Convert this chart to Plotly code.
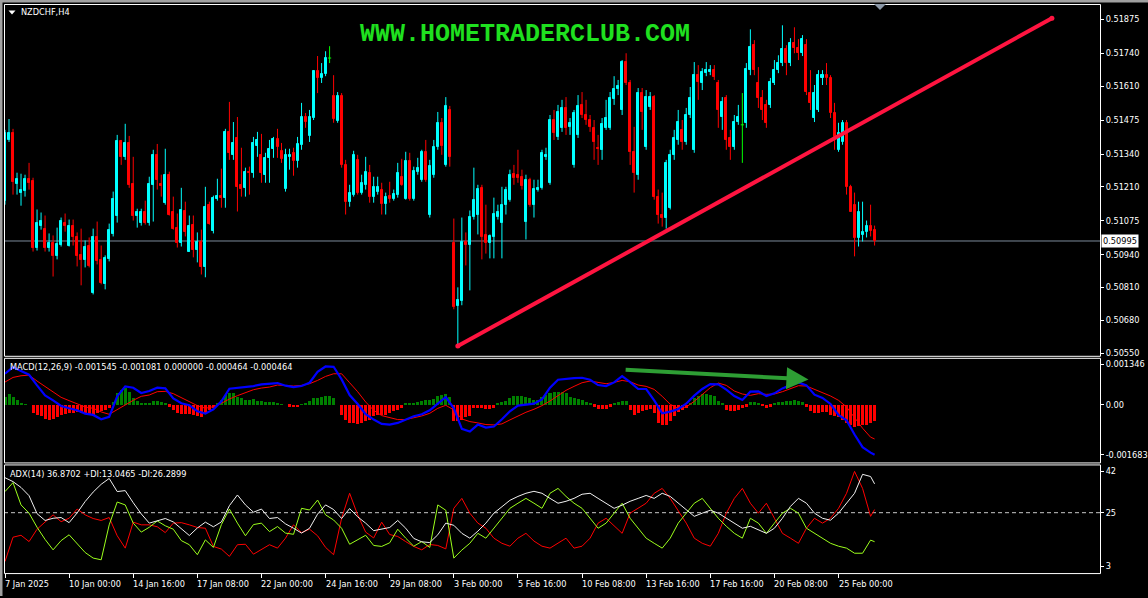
import plotly.graph_objects as go

# ---------------- data ----------------
time_labels = ["7 Jan 2025", "10 Jan 00:00", "14 Jan 16:00", "17 Jan 08:00", "22 Jan 00:00",
               "24 Jan 16:00", "29 Jan 08:00", "3 Feb 00:00", "5 Feb 16:00", "10 Feb 08:00",
               "13 Feb 16:00", "17 Feb 16:00", "20 Feb 08:00", "25 Feb 00:00"]
time_label_bars = [0, 16, 32, 48, 64, 80, 96, 112, 128, 144, 160, 176, 192, 208]

opens = [
    0.51155, 0.51396, 0.51424, 0.51222, 0.51187, 0.51195, 0.51242, 0.51234, 0.50969, 0.51056,
    0.51044, 0.50969, 0.50989, 0.50934, 0.50981, 0.51068, 0.50977, 0.51056, 0.51009, 0.50938,
    0.50918, 0.50977, 0.50787, 0.51009, 0.50918, 0.50823, 0.50922, 0.51021, 0.51096, 0.51392,
    0.51329, 0.51384, 0.51222, 0.51096, 0.51068, 0.51112, 0.51068, 0.51218, 0.51337, 0.51222,
    0.51147, 0.51258, 0.51112, 0.51048, 0.50989, 0.51116, 0.50953, 0.51060, 0.50961, 0.50993,
    0.50890, 0.51139, 0.51036, 0.51163, 0.51175, 0.51167, 0.51428, 0.51337, 0.51404, 0.51218,
    0.51206, 0.51270, 0.51266, 0.51373, 0.51337, 0.51258, 0.51325, 0.51361, 0.51400, 0.51353,
    0.51203, 0.51329, 0.51345, 0.51313, 0.51377, 0.51487, 0.51412, 0.51483, 0.51669, 0.51642,
    0.51657, 0.51721, 0.51570, 0.51471, 0.51570, 0.51297, 0.51151, 0.51179, 0.51317, 0.51187,
    0.51218, 0.51266, 0.51171, 0.51191, 0.51199, 0.51143, 0.51175, 0.51163, 0.51179, 0.51250,
    0.51163, 0.51313, 0.51163, 0.51270, 0.51238, 0.51349, 0.51100, 0.51258, 0.51369, 0.51464,
    0.51297, 0.51515, 0.50989, 0.50736, 0.50756, 0.50993, 0.50981, 0.51092, 0.51100, 0.51206,
    0.51017, 0.50989, 0.51009, 0.51092, 0.51068, 0.51139, 0.51159, 0.51262, 0.51258, 0.51250,
    0.51072, 0.51238, 0.51139, 0.51199, 0.51206, 0.51329, 0.51226, 0.51475, 0.51408, 0.51444,
    0.51523, 0.51448, 0.51297, 0.51416, 0.51535, 0.51495, 0.51475, 0.51444, 0.51365, 0.51357,
    0.51444, 0.51444, 0.51558, 0.51598, 0.51515, 0.51705, 0.51622, 0.51349, 0.51258, 0.51582,
    0.51369, 0.51527, 0.51566, 0.51171, 0.51100, 0.51088, 0.51127, 0.51337, 0.51396, 0.51436,
    0.51388, 0.51495, 0.51357, 0.51653, 0.51622, 0.51661, 0.51665, 0.51673, 0.51622, 0.51487,
    0.51562, 0.51404, 0.51369, 0.51467, 0.51456, 0.51464, 0.51673, 0.51772, 0.51622, 0.51562,
    0.51535, 0.51535, 0.51622, 0.51673, 0.51701, 0.51756, 0.51701, 0.51780, 0.51760, 0.51740,
    0.51772, 0.51582, 0.51483, 0.51515, 0.51642, 0.51653, 0.51642, 0.51503, 0.51357, 0.51388,
    0.51464, 0.51210, 0.51139, 0.51005, 0.51017, 0.51029, 0.51056, 0.51040]
highs = [
    0.51436, 0.51479, 0.51440, 0.51266, 0.51262, 0.51258, 0.51305, 0.51246, 0.51120, 0.51108,
    0.51096, 0.51025, 0.51017, 0.51048, 0.51088, 0.51104, 0.51080, 0.51080, 0.51029, 0.51044,
    0.50997, 0.51009, 0.51044, 0.51072, 0.50977, 0.50938, 0.51064, 0.51191, 0.51416, 0.51396,
    0.51460, 0.51412, 0.51329, 0.51123, 0.51123, 0.51155, 0.51250, 0.51357, 0.51380, 0.51258,
    0.51361, 0.51270, 0.51171, 0.51104, 0.51206, 0.51151, 0.51096, 0.51096, 0.51029, 0.51040,
    0.51210, 0.51151, 0.51175, 0.51242, 0.51282, 0.51440, 0.51547, 0.51467, 0.51487, 0.51365,
    0.51286, 0.51290, 0.51408, 0.51428, 0.51420, 0.51345, 0.51396, 0.51408, 0.51440, 0.51384,
    0.51361, 0.51361, 0.51365, 0.51408, 0.51543, 0.51503, 0.51515, 0.51673, 0.51729, 0.51701,
    0.51748, 0.51768, 0.51653, 0.51586, 0.51582, 0.51317, 0.51218, 0.51353, 0.51337, 0.51258,
    0.51329, 0.51297, 0.51250, 0.51250, 0.51226, 0.51187, 0.51230, 0.51199, 0.51305, 0.51321,
    0.51349, 0.51345, 0.51290, 0.51325, 0.51357, 0.51396, 0.51317, 0.51396, 0.51507, 0.51483,
    0.51566, 0.51531, 0.51084, 0.50811, 0.51088, 0.51029, 0.51116, 0.51286, 0.51218, 0.51218,
    0.51139, 0.51021, 0.51167, 0.51139, 0.51210, 0.51210, 0.51278, 0.51297, 0.51357, 0.51278,
    0.51258, 0.51246, 0.51238, 0.51238, 0.51357, 0.51365, 0.51495, 0.51515, 0.51535, 0.51555,
    0.51566, 0.51483, 0.51515, 0.51574, 0.51586, 0.51555, 0.51495, 0.51475, 0.51416, 0.51483,
    0.51555, 0.51586, 0.51649, 0.51634, 0.51713, 0.51740, 0.51634, 0.51448, 0.51602, 0.51602,
    0.51594, 0.51586, 0.51574, 0.51199, 0.51187, 0.51317, 0.51357, 0.51436, 0.51515, 0.51475,
    0.51523, 0.51606, 0.51705, 0.51693, 0.51681, 0.51705, 0.51693, 0.51693, 0.51634, 0.51566,
    0.51574, 0.51436, 0.51495, 0.51535, 0.51582, 0.51701, 0.51835, 0.51792, 0.51685, 0.51594,
    0.51555, 0.51642, 0.51713, 0.51732, 0.51851, 0.51772, 0.51800, 0.51843, 0.51796, 0.51812,
    0.51796, 0.51673, 0.51614, 0.51673, 0.51673, 0.51701, 0.51653, 0.51543, 0.51464, 0.51475,
    0.51475, 0.51218, 0.51187, 0.51151, 0.51151, 0.51076, 0.51139, 0.51056]
lows = [
    0.51139, 0.51388, 0.51179, 0.51179, 0.51135, 0.51171, 0.51199, 0.50953, 0.50957, 0.51040,
    0.50953, 0.50953, 0.50854, 0.50922, 0.50973, 0.51032, 0.50973, 0.50977, 0.50894, 0.50819,
    0.50890, 0.50890, 0.50783, 0.50902, 0.50823, 0.50803, 0.50914, 0.51013, 0.51068, 0.51297,
    0.51317, 0.51206, 0.51076, 0.51048, 0.51056, 0.51060, 0.51056, 0.51072, 0.51199, 0.51171,
    0.51139, 0.51096, 0.51040, 0.50969, 0.50973, 0.51013, 0.50953, 0.50930, 0.50910, 0.50862,
    0.50851, 0.51060, 0.51025, 0.51155, 0.51127, 0.51127, 0.51317, 0.51317, 0.51112, 0.51171,
    0.51171, 0.51179, 0.51246, 0.51329, 0.51226, 0.51226, 0.51226, 0.51325, 0.51325, 0.51305,
    0.51191, 0.51278, 0.51254, 0.51286, 0.51357, 0.51444, 0.51388, 0.51475, 0.51582, 0.51622,
    0.51649, 0.51701, 0.51464, 0.51464, 0.51286, 0.51100, 0.51131, 0.51171, 0.51179, 0.51179,
    0.51199, 0.51147, 0.51147, 0.51179, 0.51100, 0.51100, 0.51147, 0.51155, 0.51167, 0.51214,
    0.51159, 0.51155, 0.51155, 0.51258, 0.51230, 0.51230, 0.51088, 0.51246, 0.51357, 0.51337,
    0.51290, 0.51290, 0.50724, 0.50578, 0.50740, 0.50898, 0.50799, 0.51080, 0.51021, 0.50922,
    0.50945, 0.50926, 0.50926, 0.51080, 0.50926, 0.51100, 0.51151, 0.51218, 0.51226, 0.51199,
    0.51001, 0.51131, 0.51088, 0.51191, 0.51199, 0.51317, 0.51218, 0.51396, 0.51396, 0.51428,
    0.51416, 0.51416, 0.51286, 0.51404, 0.51483, 0.51456, 0.51428, 0.51317, 0.51297, 0.51317,
    0.51436, 0.51436, 0.51535, 0.51574, 0.51495, 0.51614, 0.51297, 0.51187, 0.51238, 0.51436,
    0.51357, 0.51515, 0.51159, 0.51064, 0.51052, 0.51044, 0.51120, 0.51317, 0.51377, 0.51357,
    0.51377, 0.51483, 0.51345, 0.51555, 0.51594, 0.51649, 0.51653, 0.51634, 0.51444, 0.51436,
    0.51357, 0.51317, 0.51357, 0.51456, 0.51305, 0.51444, 0.51653, 0.51653, 0.51523, 0.51475,
    0.51444, 0.51523, 0.51614, 0.51661, 0.51689, 0.51653, 0.51689, 0.51740, 0.51713, 0.51729,
    0.51574, 0.51515, 0.51467, 0.51507, 0.51614, 0.51614, 0.51483, 0.51357, 0.51349, 0.51377,
    0.51179, 0.51112, 0.50934, 0.50973, 0.50993, 0.51009, 0.51013, 0.50977]
closes = [
    0.51424, 0.51424, 0.51230, 0.51242, 0.51199, 0.51242, 0.51226, 0.50969, 0.51068, 0.51076,
    0.50969, 0.50989, 0.50934, 0.50985, 0.51076, 0.51056, 0.51056, 0.51009, 0.50934, 0.50918,
    0.50973, 0.50894, 0.51009, 0.50914, 0.50827, 0.50926, 0.51040, 0.51163, 0.51392, 0.51329,
    0.51384, 0.51218, 0.51096, 0.51112, 0.51112, 0.51068, 0.51222, 0.51337, 0.51238, 0.51214,
    0.51258, 0.51100, 0.51044, 0.50989, 0.51120, 0.51029, 0.51056, 0.50961, 0.50993, 0.50890,
    0.51131, 0.51064, 0.51167, 0.51175, 0.51167, 0.51428, 0.51345, 0.51384, 0.51210, 0.51203,
    0.51270, 0.51266, 0.51384, 0.51396, 0.51266, 0.51325, 0.51361, 0.51400, 0.51369, 0.51321,
    0.51337, 0.51337, 0.51313, 0.51380, 0.51487, 0.51467, 0.51487, 0.51669, 0.51642, 0.51657,
    0.51721, 0.51721, 0.51479, 0.51570, 0.51297, 0.51151, 0.51187, 0.51337, 0.51187, 0.51226,
    0.51270, 0.51171, 0.51210, 0.51210, 0.51143, 0.51171, 0.51163, 0.51183, 0.51266, 0.51218,
    0.51313, 0.51163, 0.51274, 0.51286, 0.51349, 0.51238, 0.51293, 0.51369, 0.51464, 0.51373,
    0.51531, 0.51329, 0.50732, 0.50760, 0.50993, 0.50981, 0.51092, 0.51159, 0.51203, 0.51009,
    0.50989, 0.51013, 0.51104, 0.51112, 0.51139, 0.51199, 0.51258, 0.51246, 0.51246, 0.51214,
    0.51238, 0.51139, 0.51203, 0.51206, 0.51345, 0.51337, 0.51475, 0.51424, 0.51507, 0.51523,
    0.51444, 0.51464, 0.51503, 0.51531, 0.51495, 0.51475, 0.51448, 0.51388, 0.51361, 0.51460,
    0.51483, 0.51562, 0.51598, 0.51610, 0.51705, 0.51622, 0.51349, 0.51266, 0.51582, 0.51507,
    0.51566, 0.51566, 0.51171, 0.51100, 0.51088, 0.51305, 0.51337, 0.51404, 0.51467, 0.51388,
    0.51495, 0.51562, 0.51653, 0.51626, 0.51665, 0.51673, 0.51673, 0.51645, 0.51515, 0.51547,
    0.51396, 0.51369, 0.51467, 0.51487, 0.51456, 0.51677, 0.51764, 0.51673, 0.51562, 0.51515,
    0.51464, 0.51626, 0.51673, 0.51701, 0.51756, 0.51701, 0.51780, 0.51760, 0.51740, 0.51796,
    0.51586, 0.51543, 0.51582, 0.51653, 0.51653, 0.51642, 0.51503, 0.51408, 0.51424, 0.51464,
    0.51210, 0.51112, 0.51005, 0.51112, 0.51029, 0.51056, 0.51036, 0.50995]

# indicator lines are read every second bar (plus the last bar)
line_bars = list(range(0, 217, 2)) + [217]

macd_main = [
    0.001036, 0.001259, 0.001125, 0.001003, 0.000646, 0.000312, 0.000145, -0.000045, -0.000123, -0.000189,
    -0.000301, -0.000345, -0.000490, -0.000412, 0.000279, 0.000613, 0.000568, 0.000390, 0.000457, 0.000568,
    0.000546, 0.000212, 0.000045, -0.000022, -0.000223, -0.000301, -0.000156, 0.000111, 0.000535, 0.000557,
    0.000579, 0.000624, 0.000680, 0.000713, 0.000724, 0.000635, 0.000590, 0.000624, 0.000735, 0.001103,
    0.001281, 0.001270, 0.000847, 0.000323, 0.000022, -0.000323, -0.000501, -0.000646, -0.000668, -0.000613,
    -0.000490, -0.000390, -0.000323, -0.000189, 0.000033, 0.000256,
    -0.000123, -0.000813, -0.000902, -0.000668, -0.000769, -0.000735, -0.000490, -0.000223, -0.000033, 0.0,
    0.000033, 0.000178, 0.000568, 0.000836, 0.000869, 0.000891, 0.000902, 0.000836, 0.000657, 0.000624,
    0.000746, 0.000958, 0.000758, 0.000524, 0.000524, 0.000145, -0.000290, -0.000234, -0.000145, 0.000033,
    0.000301, 0.000524, 0.000691, 0.000680, 0.000501, 0.000290, 0.000156, 0.000434, 0.000446, 0.000290,
    0.000379, 0.000546, 0.000657, 0.000746, 0.000646, 0.000334, 0.000223, 0.000022, -0.000345, -0.000524,
    -0.001003, -0.001426, -0.001610, -0.001683]
macd_signal = [
    0.000758, 0.000913, 0.000969, 0.000991, 0.000791, 0.000613, 0.000434, 0.000245, 0.000134, 0.000022,
    -0.000078, -0.000123, -0.000245, -0.000323, -0.000167, 0.0, 0.000145, 0.000279, 0.000323, 0.000434,
    0.000446, 0.000368, 0.000234, 0.000078, -0.000033, -0.000123, -0.000067, 0.000045, 0.000189, 0.000301,
    0.000390, 0.000501, 0.000557, 0.000590, 0.000657, 0.000646, 0.000624, 0.000646, 0.000702, 0.000813,
    0.000947, 0.001036, 0.001036, 0.000735, 0.000434, 0.000089, -0.000189, -0.000368, -0.000446, -0.000501,
    -0.000501, -0.000446, -0.000379, -0.000290, -0.000123, -0.000022,
    -0.000178, -0.000479, -0.000568, -0.000613, -0.000668, -0.000680, -0.000646, -0.000512, -0.000379, -0.000256,
    -0.000156, -0.000033, 0.000123, 0.000301, 0.000479, 0.000613, 0.000735, 0.000791, 0.000735, 0.000702,
    0.000746, 0.000813, 0.000769, 0.000657, 0.000613, 0.000512, 0.000279, 0.000011, -0.000123, -0.000078,
    0.000111, 0.000334, 0.000568, 0.000724, 0.000646, 0.000457, 0.000356, 0.000312, 0.000368, 0.000345,
    0.000356, 0.000434, 0.000546, 0.000635, 0.000624, 0.000512, 0.000390, 0.000290, 0.000145, -0.000078,
    -0.000434, -0.000791, -0.001092, -0.001150]
macd_hist = [
    0.000256, 0.000368, 0.000279, 0.000167, 0.000056, 0.000022, 0.0, -0.000279, -0.000334, -0.00039,
    -0.000468, -0.000501, -0.000479, -0.000412, -0.000334, -0.000312, -0.000279, -0.000279, -0.000245, -0.000279,
    -0.000301, -0.000334, -0.000368, -0.000279, -0.000223, -0.000167, -0.000089, 0.000089, 0.00039, 0.000501,
    0.000557, 0.000446, 0.000245, 0.000134, 0.000056, 0.000033, 0.000056, 0.000134, 0.000134, 0.000111,
    0.000056, -0.000056, -0.000167, -0.000279, -0.000312, -0.000312, -0.000312, -0.000334, -0.00039, -0.000423,
    -0.000279, -0.000167, -0.000089, 0.000056, 0.000167, 0.000334, 0.00039, 0.00039, 0.000279, 0.000223,
    0.000167, 0.000167, 0.000201, 0.000134, 0.000134, 0.000111, 0.000111, 0.000089, 0.000056, 0.000022,
    0.0, -0.000056, -0.000078, -0.000078, 0.000022, 0.000056, 0.000134, 0.000223, 0.000245, 0.000279,
    0.000312, 0.000312, 0.000223, 0.0, -0.000334, -0.000501, -0.000613, -0.000613, -0.000635, -0.000613,
    -0.000557, -0.000501, -0.00039, -0.000334, -0.000334, -0.000334, -0.000279, -0.000223, -0.000167, -0.000089,
    0.000033, 0.000033, 0.000056, 0.000089, 0.000134, 0.000167, 0.000167, 0.000201, 0.000312, 0.000334,
    0.000356, 0.000279,
    -0.000557, -0.000557, -0.000501, -0.000423, -0.00039, -0.000089, -0.000111, -0.000111, -0.000134, -0.000134,
    -0.000111, 0.000033, 0.000089, 0.000134, 0.000245, 0.000301, 0.000312, 0.000312, 0.000279, 0.000223,
    0.000167, 0.000167, 0.000279, 0.000334, 0.00039, 0.000423, 0.000423, 0.000446, 0.00039, 0.000279,
    0.000223, 0.000201, 0.000167, 0.000111, 0.000033, -0.000056, -0.000134, -0.000134, -0.000134, -0.000056,
    0.000033, 0.000089, 0.000145, 0.000145, -0.000167, -0.000334, -0.000279, -0.000223, -0.000167, -0.000134,
    -0.000279, -0.000613, -0.000668, -0.000668, -0.000557, -0.00039, -0.000245, -0.000167, -0.000089, 0.000056,
    0.000223, 0.000312, 0.000356, 0.000356, 0.000334, 0.000312, 0.000134, 0.000033, -0.000167, -0.000201,
    -0.000201, -0.000167, -0.000111, -0.000056, 0.000089, 0.000111, 0.000033, -0.000033, -0.000111, -0.000056,
    0.000033, 0.000089, 0.000111, 0.000134, 0.000134, 0.000167, 0.000134, 0.000111, -0.000056, -0.000201,
    -0.000279, -0.000279, -0.000245, -0.000245, -0.000334, -0.00039, -0.000423, -0.000501, -0.000613, -0.000691,
    -0.000758, -0.000724, -0.000691, -0.000668, -0.000613, -0.000557]

adx_main = [
    39.4, 37.8, 35.4, 32.0, 24.6, 21.8, 22.7, 23.0, 20.9, 24.9, 29.6, 33.5, 36.7, 39.1, 33.7, 34.1,
    29.1, 24.5, 20.7, 21.6, 22.6, 21.2, 18.3, 15.6, 18.7, 21.1, 19.2, 21.2, 27.9, 32.3, 28.2, 25.2,
    26.5, 22.6, 23.0, 20.4, 18.6, 16.6, 18.6, 24.4, 28.2, 26.3, 22.6, 26.7, 23.3, 20.7, 17.6, 18.2,
    18.9, 21.8, 18.6, 14.4, 13.0, 12.7, 15.9, 20.7,
    19.8, 16.5, 14.5, 17.4, 20.7, 24.8, 27.6, 30.1, 31.7, 33.0, 33.8, 33.0, 30.9, 28.9, 29.7, 30.9,
    32.6, 33.0, 30.9, 28.9, 26.8, 28.1, 29.7, 30.9, 32.1, 30.9, 33.0, 31.7, 28.9, 26.0, 23.5, 24.8,
    26.0, 24.8, 22.7, 20.7, 18.6, 19.4, 17.8, 16.5, 18.6, 22.7, 27.6, 30.9, 28.9, 24.8, 22.7, 21.9,
    24.8, 28.9, 33.0, 40.8, 39.9, 36.87]
plus_di = [
    33.7, 37.4, 28.2, 24.8, 19.0, 14.0, 9.7, 13.5, 15.9, 12.3, 8.6, 6.3, 5.6, 20.0, 29.4, 28.2,
    20.7, 17.0, 19.0, 21.6, 19.6, 18.2, 13.5, 11.8, 7.7, 13.8, 10.7, 20.1, 26.5, 20.7, 15.5, 20.1,
    20.7, 17.2, 19.3, 16.6, 16.1, 26.8, 26.1, 30.2, 24.1, 22.0, 18.6, 12.0, 13.8, 15.7, 11.5, 11.1,
    12.6, 18.2, 14.5, 11.2, 13.1, 10.7, 28.2, 26.0,
    6.3, 9.6, 12.4, 16.5, 14.5, 18.6, 22.7, 26.8, 28.9, 30.9, 28.9, 26.8, 33.0, 35.0, 31.7, 28.9,
    26.8, 22.7, 18.6, 20.7, 24.8, 28.9, 22.7, 18.6, 14.5, 12.4, 10.4, 14.5, 20.7, 24.8, 28.9, 30.9,
    26.8, 22.7, 19.4, 16.5, 14.5, 22.7, 20.7, 16.5, 20.7, 24.8, 26.8, 24.8, 18.6, 16.5, 14.5, 12.4,
    11.2, 10.4, 8.3, 8.3, 13.7, 13.05]
minus_di = [
    4.9, 14.9, 15.7, 13.1, 18.2, 21.3, 24.1, 21.3, 22.7, 26.5, 24.1, 22.6, 21.8, 23.0, 15.5, 10.4,
    21.1, 20.0, 20.0, 19.2, 16.8, 20.7, 20.9, 20.0, 18.9, 18.6, 11.1, 10.0, 7.0, 11.8, 12.0, 7.9,
    10.0, 11.8, 10.4, 14.5, 20.0, 16.8, 18.2, 15.5, 10.7, 7.7, 22.7, 33.0, 24.1, 17.0, 14.6, 21.1,
    16.0, 15.2, 13.1, 11.1, 9.7, 11.9, 11.5, 10.1,
    26.8, 30.9, 24.8, 20.7, 18.6, 14.5, 12.4, 11.2, 14.5, 16.5, 13.3, 11.2, 10.4, 12.4, 14.5, 10.4,
    11.2, 14.5, 20.7, 22.7, 19.4, 16.5, 24.8, 26.8, 28.9, 33.0, 35.0, 30.9, 26.0, 20.7, 14.5, 12.4,
    11.2, 16.5, 24.8, 30.9, 35.0, 28.9, 24.8, 28.9, 22.7, 16.5, 14.5, 12.4, 18.6, 22.7, 20.7, 22.7,
    26.8, 33.0, 42.0, 35.0, 23.5, 26.29]

price_ticks = [0.51875, 0.51740, 0.51610, 0.51475, 0.51340, 0.51210, 0.51075, 0.50940, 0.50810, 0.50680, 0.50550]
current_price = 0.50995
macd_ticks = [0.001346, 0.0, -0.001683]
macd_tick_text = ["0.001346", "0.00", "-0.001683"]
adx_ticks = [42, 25, 3]
adx_level = 25

trend_bars = [113, 261.25]
trend_prices = [0.50578, 0.51879]
arrow_bars = [154.5, 200.5]
arrow_vals = [0.00117, 0.000846]

symbol_title = "NZDCHF,H4"
watermark = "WWW.HOMETRADERCLUB.COM"
macd_label = "MACD(12,26,9) -0.001545 -0.001081 0.000000 -0.000464 -0.000464"
adx_label = "ADX(14) 36.8702 +DI:13.0465 -DI:26.2899"

# ---------------- layout geometry (pixels) ----------------
FW, FH = 1148, 598
PL, PR = 4, 1100
MAIN_T, MAIN_B = 4, 357
MACD_T, MACD_B = 359, 464
ADX_T, ADX_B = 466, 575
FONT = "DejaVu Sans"
FS = 8.2

def fx(p):
    return p / FW

def fy(p):
    return 1 - p / FH

BULL = "#00ffff"
BEAR = "#ff0000"
DOJI = "#00ff00"

n = len(closes)
bars = list(range(n))
bull = [i for i in bars if closes[i] > opens[i]]
bear = [i for i in bars if closes[i] < opens[i]]
doji = [i for i in bars if closes[i] == opens[i]]

fig = go.Figure()


def add_wicks(idx, color):
    xs, ys = [], []
    for i in idx:
        xs += [i, i, None]
        ys += [lows[i], highs[i], None]
    fig.add_trace(go.Scatter(x=xs, y=ys, mode="lines", line=dict(color=color, width=1),
                             hoverinfo="skip", xaxis="x", yaxis="y"))


def add_bodies(idx, color):
    fig.add_trace(go.Bar(x=idx, y=[abs(closes[i] - opens[i]) for i in idx],
                         base=[min(opens[i], closes[i]) for i in idx],
                         width=0.5, marker=dict(color=color, line=dict(color=color, width=1)),
                         hoverinfo="skip", xaxis="x", yaxis="y"))


add_wicks(bull, BULL)
add_wicks(bear, BEAR)
add_wicks(doji, DOJI)
add_bodies(bull, BULL)
add_bodies(bear, BEAR)
dx, dy = [], []
for i in doji:
    dx += [i - 0.4, i + 0.4, None]
    dy += [opens[i], opens[i], None]
fig.add_trace(go.Scatter(x=dx, y=dy, mode="lines", line=dict(color=DOJI, width=1),
                         hoverinfo="skip", xaxis="x", yaxis="y"))

# trend line
fig.add_trace(go.Scatter(x=trend_bars, y=trend_prices, mode="lines+markers",
                         line=dict(color="#ff1440", width=4), marker=dict(color="#ff1440", size=5),
                         hoverinfo="skip", xaxis="x", yaxis="y"))

# MACD
fig.add_trace(go.Bar(x=bars, y=macd_hist, width=0.75,
                     marker=dict(color=["#008000" if v >= 0 else "#ff0000" for v in macd_hist], line=dict(width=0)),
                     hoverinfo="skip", xaxis="x", yaxis="y2"))
fig.add_trace(go.Scatter(x=line_bars, y=macd_signal, mode="lines", line=dict(color="#ff0000", width=1),
                         hoverinfo="skip", xaxis="x", yaxis="y2"))
fig.add_trace(go.Scatter(x=line_bars, y=macd_main, mode="lines", line=dict(color="#0000ff", width=2.2),
                         hoverinfo="skip", xaxis="x", yaxis="y2"))

# ADX
fig.add_trace(go.Scatter(x=line_bars, y=minus_di, mode="lines", line=dict(color="#ff0000", width=1),
                         hoverinfo="skip", xaxis="x", yaxis="y3"))
fig.add_trace(go.Scatter(x=line_bars, y=plus_di, mode="lines", line=dict(color="#9cff1c", width=1),
                         hoverinfo="skip", xaxis="x", yaxis="y3"))
fig.add_trace(go.Scatter(x=line_bars, y=adx_main, mode="lines", line=dict(color="#f0f0f0", width=1),
                         hoverinfo="skip", xaxis="x", yaxis="y3"))

# axis ranges from pixel geometry of the reference panels
price_per_px = (price_ticks[0] - price_ticks[-1]) / (354.3 - 19.3)
price_top = price_ticks[0] + (19.3 - MAIN_T) * price_per_px
price_bot = price_ticks[0] - (MAIN_B - 19.3) * price_per_px
macd_per_px = (macd_ticks[0] - macd_ticks[2]) / (456.3 - 365.7)
macd_top = (406.0 - MACD_T) * macd_per_px
macd_bot = -(MACD_B - 406.0) * macd_per_px
adx_per_px = (adx_ticks[0] - adx_ticks[2]) / (568.0 - 473.0)
adx_top = adx_ticks[0] + (473.0 - ADX_T) * adx_per_px
adx_bot = adx_ticks[0] - (ADX_B - 473.0) * adx_per_px

tickfont = dict(family=FONT, size=FS, color="white")
common_y = dict(side="right", anchor="x", showgrid=False, zeroline=False, showline=False,
                ticks="outside", ticklen=3, tickcolor="white", tickfont=tickfont, fixedrange=True)

fig.update_layout(
    width=FW, height=FH, margin=dict(l=0, r=0, t=0, b=0),
    paper_bgcolor="black", plot_bgcolor="black", showlegend=False,
    barmode="overlay", bargap=0,
    xaxis=dict(domain=[fx(PL), fx(PR)], range=[-0.25, 273.25], anchor="y3",
               showgrid=False, zeroline=False, showline=False, showticklabels=False,
               tickvals=time_label_bars, ticks="outside", ticklen=4, tickcolor="white", fixedrange=True),
    yaxis=dict(domain=[fy(MAIN_B), fy(MAIN_T)], range=[price_bot, price_top],
               tickvals=price_ticks, ticktext=["%.5f" % v for v in price_ticks], **common_y),
    yaxis2=dict(domain=[fy(MACD_B), fy(MACD_T)], range=[macd_bot, macd_top],
                tickvals=macd_ticks, ticktext=macd_tick_text, **common_y),
    yaxis3=dict(domain=[fy(ADX_B), fy(ADX_T)], range=[adx_bot, adx_top],
                tickvals=adx_ticks, ticktext=[str(v) for v in adx_ticks], **common_y),
)

shapes = []
# panel frames
for t, b in [(MAIN_T, MAIN_B), (MACD_T, MACD_B), (ADX_T, ADX_B)]:
    shapes.append(dict(type="rect", xref="paper", yref="paper", x0=fx(PL + 0.5), x1=fx(PR + 0.5),
                       y0=fy(b + 0.5), y1=fy(t + 0.5), line=dict(color="white", width=1), layer="above"))
# window frame
shapes.append(dict(type="rect", xref="paper", yref="paper", x0=0, x1=1, y0=fy(2.5), y1=1,
                   fillcolor="#a0a0a0", line=dict(width=0)))
shapes.append(dict(type="rect", xref="paper", yref="paper", x0=0, x1=fx(2.5), y0=0, y1=1,
                   fillcolor="#a0a0a0", line=dict(width=0)))
# current price line
shapes.append(dict(type="line", xref="paper", yref="y", x0=fx(PL), x1=fx(PR), y0=current_price, y1=current_price,
                   line=dict(color="#7b8a9a", width=1), layer="below"))
# ADX level
shapes.append(dict(type="line", xref="paper", yref="y3", x0=fx(PL), x1=fx(PR), y0=adx_level, y1=adx_level,
                   line=dict(color="#c8c8c8", width=1, dash="4px,3px"), layer="below"))
# small markers (menu triangle, chart shift marker)
shapes.append(dict(type="path", xref="paper", yref="paper",
                   path="M %f,%f L %f,%f L %f,%f Z" % (fx(8.5), fy(10.5), fx(15.5), fy(10.5), fx(12), fy(14.5)),
                   fillcolor="white", line=dict(width=0)))
shapes.append(dict(type="path", xref="paper", yref="paper",
                   path="M %f,%f L %f,%f L %f,%f Z" % (fx(874), fy(4), fx(886), fy(4), fx(880), fy(10)),
                   fillcolor="#8c98a8", line=dict(width=0)))
fig.update_layout(shapes=shapes)

ann = []
ann.append(dict(text=symbol_title, x=fx(19), y=fy(12.5), xref="paper", yref="paper", xanchor="left",
                yanchor="middle", showarrow=False, font=dict(family=FONT, size=FS, color="white")))
ann.append(dict(text="<b>" + watermark + "</b>", x=fx(525), y=fy(35), xref="paper", yref="paper",
                xanchor="center", yanchor="middle", showarrow=False,
                font=dict(family="Liberation Mono", size=25, color="#1fe01f")))
ann.append(dict(text=macd_label, x=fx(8), y=fy(368), xref="paper", yref="paper", xanchor="left",
                yanchor="middle", showarrow=False, font=dict(family=FONT, size=FS, color="white")))
ann.append(dict(text=adx_label, x=fx(8), y=fy(475.5), xref="paper", yref="paper", xanchor="left",
                yanchor="middle", showarrow=False, font=dict(family=FONT, size=FS, color="white")))
ann.append(dict(text="%.5f" % current_price, x=fx(PR + 1), y=current_price, xref="paper", yref="y",
                xanchor="left", yanchor="middle", showarrow=False, bgcolor="white", borderpad=1,
                font=dict(family=FONT, size=FS, color="black")))
for lbl, b in zip(time_labels, time_label_bars):
    ann.append(dict(text=lbl, x=b, y=fy(585.5), xref="x", yref="paper", xanchor="left", yanchor="middle",
                    xshift=-2, showarrow=False, font=dict(family=FONT, size=FS, color="white")))
ann.append(dict(text="", x=arrow_bars[1], y=arrow_vals[1], ax=arrow_bars[0], ay=arrow_vals[0],
                xref="x", yref="y2", axref="x", ayref="y2", showarrow=True, arrowhead=2, arrowsize=1.1,
                arrowwidth=4, arrowcolor="#2e9e34"))
fig.update_layout(annotations=ann)

fig.write_html("out.html", config={"displayModeBar": False},
               post_script="document.body.style.margin='0px';")
